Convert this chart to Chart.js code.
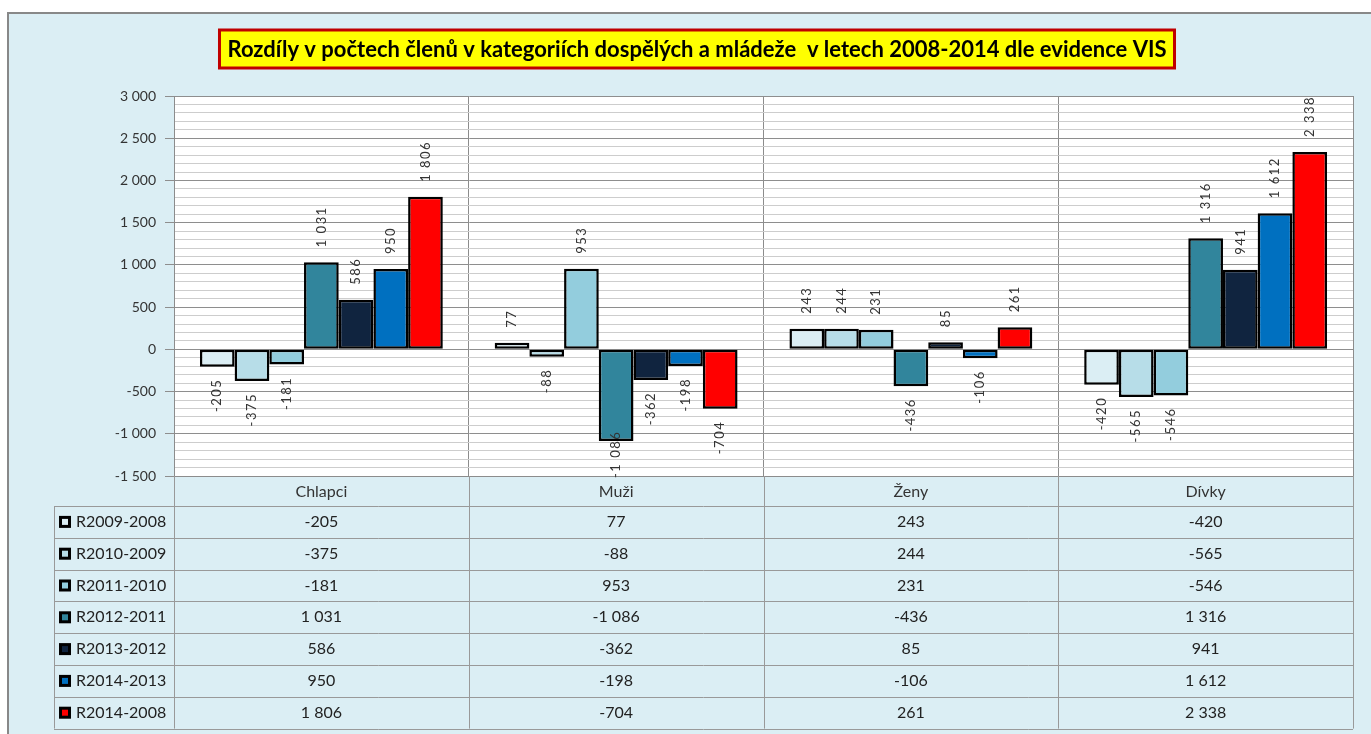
<!DOCTYPE html>
<html lang="cs">
<head>
<meta charset="utf-8">
<title>Rozdíly v počtech členů</title>
<script src="https://cdn.jsdelivr.net/npm/chart.js@4.4.0/dist/chart.umd.min.js"></script>
<style>
  html, body { margin: 0; padding: 0; background: #fff; overflow: hidden; }
  #frame { position: absolute; left: 7px; top: 12px; width: 1400px; height: 760px; background: #dbeef4; border: 2px solid #888; }
  #wrap { position: absolute; left: 0; top: 0; width: 1371px; height: 734px; }
</style>
</head>
<body>
<div id="frame"></div>
<div id="wrap"><canvas id="chart"></canvas></div>
<script>
const titleText = 'Rozdíly v počtech členů v kategoriích dospělých a mládeže  v letech 2008-2014 dle evidence VIS';
const categories = ['Chlapci', 'Muži', 'Ženy', 'Dívky'];
const seriesNames = ['R2009-2008', 'R2010-2009', 'R2011-2010', 'R2012-2011', 'R2013-2012', 'R2014-2013', 'R2014-2008'];

const r2009_2008 = [-205, 77, 243, -420];
const r2010_2009 = [-375, -88, 244, -565];
const r2011_2010 = [-181, 953, 231, -546];
const r2012_2011 = [1031, -1086, -436, 1316];
const r2013_2012 = [586, -362, 85, 941];
const r2014_2013 = [950, -198, -106, 1612];
const r2014_2008 = [1806, -704, 261, 2338];

const yMin = -1500;
const yMax = 3000;
const majorStep = 500;
const minorStep = 100;

const seriesColors = ['#dbeef4', '#b7dde8', '#93cddd', '#31859c', '#10243f', '#0070c0', '#ff0000'];
const seriesValues = [r2009_2008, r2010_2009, r2011_2010, r2012_2011, r2013_2012, r2014_2013, r2014_2008];

const FONT = 'Lato, "Liberation Sans", sans-serif';
Chart.defaults.font.family = FONT;

function fmt(n) {
    const s = Math.abs(n).toString().replace(/\B(?=(\d{3})+(?!\d))/g, ' ');
    return (n < 0 ? '-' : '') + s;
}

// white plot background
const plotBg = {
    id: 'plotBg',
    beforeDraw(chart) {
        const { ctx, chartArea: a } = chart;
        ctx.save();
        ctx.fillStyle = '#ffffff';
        ctx.fillRect(a.left, a.top, a.right - a.left, a.bottom - a.top);
        ctx.restore();
    }
};

// yellow title box
const titleBox = {
    id: 'titleBox',
    afterDraw(chart) {
        const ctx = chart.ctx;
        ctx.save();
        ctx.font = 'bold 22px ' + FONT;
        const w = ctx.measureText(titleText).width + 16;
        const cx = 697, top = 30, h = 38;
        ctx.fillStyle = '#ffff00';
        ctx.fillRect(cx - w / 2, top, w, h);
        ctx.strokeStyle = '#c00000';
        ctx.lineWidth = 3;
        ctx.strokeRect(cx - w / 2, top, w, h);
        ctx.fillStyle = '#000';
        ctx.textAlign = 'center';
        ctx.textBaseline = 'middle';
        ctx.fillText(titleText, cx, top + h / 2 + 1);
        ctx.restore();
    }
};

// rotated value labels
const barLabels = {
    id: 'barLabels',
    afterDatasetsDraw(chart) {
        const ctx = chart.ctx;
        const a = chart.chartArea;
        ctx.save();
        ctx.font = '13px ' + FONT;
        ctx.letterSpacing = '1.5px';
        ctx.fillStyle = '#333';
        ctx.textBaseline = 'middle';
        chart.data.datasets.forEach((ds, di) => {
            chart.getDatasetMeta(di).data.forEach((el, i) => {
                const v = ds.data[i];
                const txt = fmt(v);
                ctx.save();
                if (v >= 0) {
                    ctx.translate(el.x, el.y - 15);
                    ctx.rotate(-Math.PI / 2);
                    ctx.textAlign = 'left';
                } else {
                    // keep the label inside the plot, like Excel does
                    const w = ctx.measureText(txt).width;
                    const y0 = Math.min(el.y + 12, a.bottom + 2 - w);
                    ctx.translate(el.x, y0);
                    ctx.rotate(-Math.PI / 2);
                    ctx.textAlign = 'right';
                }
                ctx.fillText(txt, 0, 0);
                ctx.restore();
            });
        });
        ctx.restore();
    }
};

// data table under the axis
const dataTable = {
    id: 'dataTable',
    afterDraw(chart) {
        const { ctx, chartArea: a, scales: { x } } = chart;
        const headTop = a.bottom;
        const rowsTop = headTop + 30;
        const rowH = 31.8;
        const rowsBottom = rowsTop + rowH * seriesNames.length;
        const left = 54;
        const catW = (a.right - a.left) / categories.length;
        ctx.save();
        ctx.strokeStyle = '#999';
        ctx.lineWidth = 1;
        ctx.beginPath();
        for (let i = 0; i <= seriesNames.length; i++) {
            const y = Math.round(rowsTop + i * rowH) + 0.5;
            ctx.moveTo(left, y);
            ctx.lineTo(a.right, y);
        }
        ctx.moveTo(left + 0.5, rowsTop);
        ctx.lineTo(left + 0.5, rowsBottom);
        for (let c = 0; c <= categories.length; c++) {
            const xx = Math.round(a.left + c * catW) + 0.5;
            ctx.moveTo(xx, headTop);
            ctx.lineTo(xx, rowsBottom);
        }
        ctx.stroke();

        ctx.textBaseline = 'middle';
        seriesNames.forEach((name, r) => {
            const cy = rowsTop + r * rowH + rowH / 2;
            // legend key
            ctx.fillStyle = '#000';
            ctx.fillRect(left + 5, cy - 6, 12, 12);
            ctx.fillStyle = seriesColors[r];
            ctx.fillRect(left + 8, cy - 3, 6, 6);
            ctx.fillStyle = '#222';
            ctx.font = '16px ' + FONT;
            ctx.textAlign = 'left';
            ctx.fillText(name, left + 22, cy);
            ctx.textAlign = 'center';
            seriesValues[r].forEach((v, c) => {
                ctx.fillText(fmt(v), x.getPixelForValue(c), cy);
            });
        });
        ctx.restore();
    }
};

new Chart(document.getElementById('chart'), {
    type: 'bar',
    data: {
        labels: categories,
        datasets: seriesNames.map((name, i) => ({
            label: name,
            data: seriesValues[i],
            backgroundColor: seriesColors[i],
            borderColor: '#000',
            borderWidth: 2.5,
            borderSkipped: false,
            categoryPercentage: 0.824,
            barPercentage: 1
        }))
    },
    options: {
        responsive: true,
        maintainAspectRatio: false,
        animation: false,
        layout: { padding: { top: 96, right: 18, bottom: 228, left: 0 } },
        plugins: {
            legend: { display: false },
            title: { display: false },
            tooltip: { enabled: false }
        },
        scales: {
            x: {
                afterFit(scale) { scale.height = 30; },
                grid: { offset: true, color: '#8c8c8c', drawTicks: false },
                border: { color: '#8c8c8c' },
                ticks: { padding: 6, color: '#333', font: { size: 16 } }
            },
            y: {
                min: yMin,
                max: yMax,
                afterFit(scale) { scale.width = 174; },
                border: { color: '#8c8c8c' },
                grid: {
                    color: c => (c.tick && c.tick.value % majorStep === 0) ? '#8e8e8e' : '#cdcdcd',
                    tickColor: c => (c.tick && c.tick.value % majorStep === 0) ? '#8e8e8e' : 'rgba(0,0,0,0)',
                    tickLength: 9
                },
                ticks: {
                    stepSize: minorStep,
                    autoSkip: false,
                    padding: 9,
                    color: '#333',
                    font: { size: 14 },
                    callback: v => (v % majorStep === 0 ? fmt(v) : '')
                }
            }
        }
    },
    plugins: [plotBg, barLabels, dataTable, titleBox]
});
</script>
</body>
</html>
